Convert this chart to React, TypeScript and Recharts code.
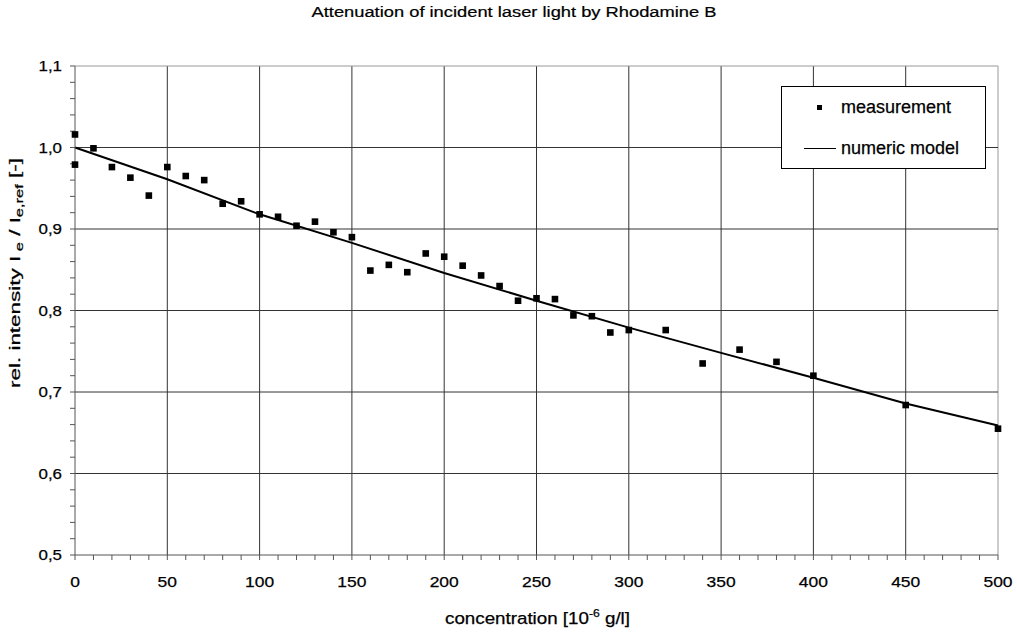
import React from 'react';
import { ComposedChart, Line, Scatter, XAxis, YAxis, ReferenceLine, Legend } from 'recharts';

// measurement data (concentration in 10^-6 g/l, relative intensity)
const measConc = [0, 0, 10, 20, 30, 40, 50, 60, 70, 80, 90, 100, 110, 120, 130, 140, 150, 160, 170, 180, 190, 200, 210, 220, 230, 240, 250, 260, 270, 280, 290, 300, 320, 340, 360, 380, 400, 450, 500];
const measIntensity = [1.016, 0.979, 0.999, 0.976, 0.963, 0.941, 0.976, 0.965, 0.960, 0.931, 0.934, 0.918, 0.915, 0.904, 0.909, 0.896, 0.890, 0.849, 0.856, 0.847, 0.870, 0.866, 0.855, 0.843, 0.830, 0.812, 0.815, 0.814, 0.794, 0.793, 0.773, 0.776, 0.776, 0.735, 0.752, 0.737, 0.720, 0.684, 0.655];

// numeric model
const modelConc = [0, 50, 100, 150, 200, 250, 300, 350, 400, 450, 500];
const modelIntensity = [1.0, 0.961, 0.918, 0.883, 0.846, 0.812, 0.779, 0.748, 0.7175, 0.686, 0.659];

// ticks
const xMajorTicks = [0, 50, 100, 150, 200, 250, 300, 350, 400, 450, 500];
const xAllTicks = [0, 10, 20, 30, 40, 50, 60, 70, 80, 90, 100, 110, 120, 130, 140, 150, 160, 170, 180, 190, 200, 210, 220, 230, 240, 250, 260, 270, 280, 290, 300, 310, 320, 330, 340, 350, 360, 370, 380, 390, 400, 410, 420, 430, 440, 450, 460, 470, 480, 490, 500];
const yMajorTicks = [0.5, 0.6, 0.7, 0.8, 0.9, 1.0, 1.1];
const yAllTicks = [0.5, 0.52, 0.54, 0.56, 0.58, 0.6, 0.62, 0.64, 0.66, 0.68, 0.7, 0.72, 0.74, 0.76, 0.78, 0.8, 0.82, 0.84, 0.86, 0.88, 0.9, 0.92, 0.94, 0.96, 0.98, 1.0, 1.02, 1.04, 1.06, 1.08, 1.1];

const measData = measConc.map((c, i) => ({ x: c, y: measIntensity[i] }));
const modelData = modelConc.map((c, i) => ({ x: c, y: modelIntensity[i] }));

const FONT = '"Liberation Sans", Arial, Helvetica, sans-serif';

const isMajorX = (v: number) => xMajorTicks.indexOf(v) >= 0;
const isMajorY = (v: number) => yMajorTicks.some((t) => Math.abs(t - v) < 1e-6);

const XTick = (props: any) => {
  const { x, y, payload } = props;
  const v = payload.value;
  if (!isMajorX(v)) return <g />;
  const s = String(v);
  return (
    <text x={x} y={y} dy={25} textAnchor="middle" fontSize={15} fontFamily={FONT} fill="#000"
      stroke="#000" strokeWidth={0.25}
      textLength={s.length * 9.7} lengthAdjust="spacingAndGlyphs">{s}</text>
  );
};

const YTick = (props: any) => {
  const { x, y, payload } = props;
  const v = payload.value;
  if (!isMajorY(v)) return <g />;
  const s = v.toFixed(1).replace('.', ',');
  return (
    <text x={x - 6} y={y} dy={5} textAnchor="end" fontSize={15} fontFamily={FONT} fill="#000"
      stroke="#000" strokeWidth={0.25}
      textLength={23.5} lengthAdjust="spacingAndGlyphs">{s}</text>
  );
};

const SquareDot = (props: any) => {
  const { cx, cy } = props;
  if (cx == null || cy == null) return <g />;
  return <rect x={cx - 3.3} y={cy - 3.3} width={6.6} height={6.6} fill="#000" />;
};

const XLabel = (props: any) => {
  const vb = props.viewBox || { x: 75, y: 555, width: 923 };
  const cx = vb.x + vb.width / 2 + 1;
  return (
    <text x={cx} y={vb.y + 69} textAnchor="middle" fontSize={17} fontFamily={FONT} fill="#000"
      stroke="#000" strokeWidth={0.25}
      textLength={185} lengthAdjust="spacingAndGlyphs">
      concentration [10<tspan dy={-7} fontSize={11}>-6</tspan><tspan dy={7}> g/l]</tspan>
    </text>
  );
};

const YLabel = () => (
  <text transform="translate(20,273) rotate(-90)" textAnchor="middle" fontSize={15} fontFamily={FONT} fill="#000"
    stroke="#000" strokeWidth={0.25}
    textLength={230} lengthAdjust="spacingAndGlyphs">
    rel. intensity I<tspan dy={3} fontSize={11}> e</tspan><tspan dy={-3}> / I</tspan><tspan dy={3} fontSize={11}>e,ref</tspan><tspan dy={-3}> [-]</tspan>
  </text>
);

const LegendBox = () => (
  <div style={{ position: 'relative', width: 205, height: 83, border: '1px solid #000', boxSizing: 'border-box', background: '#fff', fontFamily: FONT, fontSize: 18, color: '#000', WebkitTextStroke: '0.25px #000' }}>
    <div style={{ position: 'absolute', left: 35, top: 18, width: 5.4, height: 5.4, background: '#000' }} />
    <div style={{ position: 'absolute', left: 59, top: 10, lineHeight: '20px', whiteSpace: 'nowrap' }}>measurement</div>
    <div style={{ position: 'absolute', left: 22, top: 60.5, width: 32, height: 1.6, background: '#000' }} />
    <div style={{ position: 'absolute', left: 59, top: 50.5, lineHeight: '20px', whiteSpace: 'nowrap' }}>numeric model</div>
  </div>
);

export default function App() {
  return (
    <div style={{ position: 'absolute', left: 0, top: 0, width: 1017, height: 635, background: '#fff' }}>
      <ComposedChart width={1017} height={635} margin={{ top: 66, right: 19, bottom: 50, left: 15 }}>
        <XAxis type="number" dataKey="x" domain={[0, 500]} ticks={xAllTicks} interval={0} height={30}
          tickSize={5} tick={<XTick />} axisLine={{ stroke: '#555' }} tickLine={{ stroke: '#555' }}
          label={<XLabel />} />
        <YAxis type="number" dataKey="y" domain={[0.5, 1.1]} ticks={yAllTicks} interval={0} width={60}
          tickSize={5} tick={<YTick />} axisLine={{ stroke: '#555' }} tickLine={{ stroke: '#555' }}
          label={<YLabel />} />
        {xMajorTicks.filter((v) => v > 0).map((v) => (
          <ReferenceLine key={'vx' + v} x={v} stroke={v === 500 ? '#999' : '#333'} strokeWidth={1} />
        ))}
        {yMajorTicks.filter((v) => v > 0.5).map((v) => (
          <ReferenceLine key={'hy' + v} y={v} stroke={v === 1.1 ? '#999' : '#333'} strokeWidth={1} />
        ))}
        <Line data={modelData} dataKey="y" type="linear" stroke="#000" strokeWidth={2} dot={false}
          isAnimationActive={false} name="numeric model" />
        <Scatter data={measData} dataKey="y" shape={<SquareDot />} isAnimationActive={false} name="measurement" />
        <Legend layout="horizontal" verticalAlign="middle" align="center"
          wrapperStyle={{ position: 'absolute', left: 781, top: 86, width: 205, height: 83, margin: 0 }}
          content={() => <LegendBox />} />
      </ComposedChart>
      <svg width={1017} height={40} style={{ position: 'absolute', left: 0, top: 0 }}>
        <text x={514} y={17} textAnchor="middle" fontSize={14} fontFamily={FONT} fill="#000"
          stroke="#000" strokeWidth={0.2}
          textLength={405} lengthAdjust="spacingAndGlyphs">Attenuation of incident laser light by Rhodamine B</text>
      </svg>
    </div>
  );
}
